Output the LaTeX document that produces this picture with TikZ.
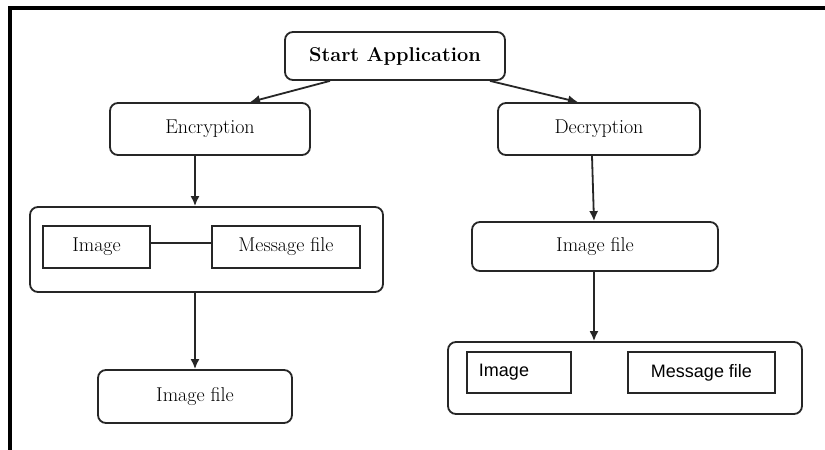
\documentclass[tikz,border=0pt]{standalone}
\usepackage{fontspec}
\newfontfamily\arialfont{Liberation Sans}
\usetikzlibrary{arrows.meta}
\begin{document}
\begin{tikzpicture}[x=1pt,y=-1pt,
  box/.style={draw=black!85,line width=1.8pt,rounded corners=8pt,inner sep=0pt,
    font=\fontsize{20}{24}\selectfont},
  sq/.style={draw=black!85,line width=1.8pt,inner sep=0pt,font=\fontsize{20}{24}\selectfont},
  sqs/.style={draw=black!85,line width=1.8pt,inner sep=0pt,font=\arialfont\fontsize{18}{22}\selectfont},
  arr/.style={draw=black!85,line width=1.8pt,-{Latex[length=10pt,width=9pt]}},
  lnk/.style={draw=black!85,line width=1.8pt},
  frame/.style={line width=4pt,black}]
\useasboundingbox (0,0) rectangle (825,450);
\fill[white] (0,0) rectangle (825,450);
\draw[frame] (8,8) -- (825,8);
\draw[frame] (10,6) -- (10,450);
% nodes
\node[box,minimum width=220pt,minimum height=48pt,font=\fontsize{20}{24}\selectfont\bfseries] (start) at (395,56) {Start Application};
\node[box,minimum width=200pt,minimum height=52pt] (enc) at (210,129) {Encryption};
\node[box,minimum width=202pt,minimum height=52pt] (dec) at (599,129) {Decryption};
\node[box,minimum width=353pt,minimum height=85pt] (lgrp) at (206.5,249.5) {};
\node[sq,minimum width=107pt,minimum height=42pt] (limg) at (96.5,247) {Image};
\node[sq,minimum width=148pt,minimum height=42pt] (lmsg) at (286,247) {Message file};
\node[box,minimum width=194pt,minimum height=53pt] (lfile) at (195,396.5) {Image file};
\node[box,minimum width=246pt,minimum height=49pt] (rfile) at (595,246.5) {Image file};
\node[box,minimum width=354pt,minimum height=72pt] (rgrp) at (625,378) {};
\node[sqs,minimum width=104pt,minimum height=41pt] (rimg) at (519,372.5) {\hspace*{-30pt}Image};
\node[sqs,minimum width=147pt,minimum height=41pt] (rmsg) at (701.5,372.5) {Message file};
% connectors
\draw[arr] ([xshift=-65pt]start.south) -- ([xshift=40pt]enc.north);
\draw[arr] ([xshift=95pt]start.south) -- ([xshift=-21pt]dec.north);
\draw[arr] ([xshift=-15pt]enc.south) -- ([xshift=-15pt]enc.south |- lgrp.north);
\draw[arr] (lfile.north |- lgrp.south) -- (lfile.north);
\draw[lnk] ([yshift=4pt]limg.east) -- ([yshift=4pt]lmsg.west);
\draw[arr] ([xshift=-7pt]dec.south) -- ([xshift=-1pt]rfile.north);
\draw[arr] ([xshift=-1pt]rfile.south) -- ([xshift=-1pt]rfile.south |- rgrp.north);
\end{tikzpicture}
\end{document}
